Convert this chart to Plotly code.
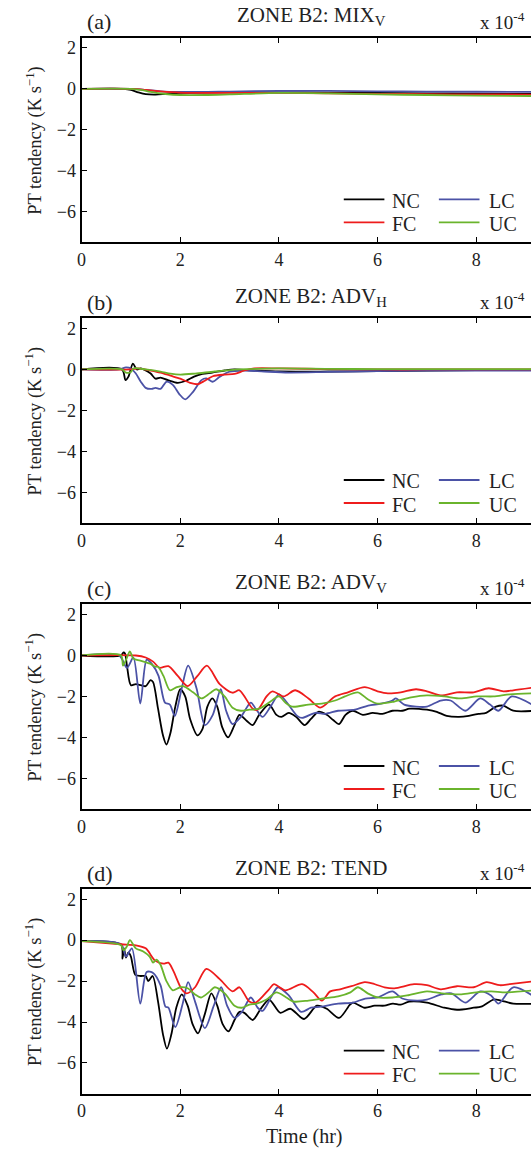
import plotly.graph_objects as go

W, H = 531, 1149
FONT = "Liberation Serif, Times New Roman, serif"
TXT = "#222222"

names = ["NC", "FC", "LC", "UC"]
colors = ["#000000", "#ee1c1c", "#4b52a6", "#6ab42c"]

titles = ["ZONE B2: MIX<sub>V</sub>", "ZONE B2: ADV<sub>H</sub>",
          "ZONE B2: ADV<sub>V</sub>", "ZONE B2: TEND"]
letters = ["(a)", "(b)", "(c)", "(d)"]
x_ticks = [0, 2, 4, 6, 8]
y_ticks = [2, 0, -2, -4, -6]
ylabel = "PT tendency (K s<sup>−1</sup>)"
xlabel = "Time (hr)"
scale_label = "x 10<sup>-4</sup>"

# ---------------- Panel (a): MIX_V ----------------
a_nc_t = [0, 0.85, 1.0, 1.15, 1.3, 1.5, 1.7, 2.0, 3.0, 4.0, 5.0, 6.0, 7.0, 8.0, 9.2]
a_nc_v = [0, 0, -0.05, -0.17, -0.26, -0.28, -0.25, -0.2, -0.17, -0.17, -0.18, -0.2, -0.22, -0.23, -0.25]
a_fc_t = [0, 1.0, 1.3, 1.6, 2.0, 3.0, 4.0, 5.0, 6.0, 7.0, 8.0, 9.2]
a_fc_v = [0, 0, -0.05, -0.12, -0.18, -0.2, -0.2, -0.22, -0.24, -0.26, -0.27, -0.28]
a_lc_t = [0, 1.0, 1.3, 1.6, 2.0, 3.0, 4.0, 5.0, 6.0, 7.0, 8.0, 9.2]
a_lc_v = [0, 0, -0.05, -0.12, -0.15, -0.13, -0.1, -0.1, -0.12, -0.13, -0.14, -0.15]
a_uc_t = [0, 1.0, 1.2, 1.4, 1.7, 2.0, 2.5, 3.0, 4.0, 5.0, 6.0, 7.0, 8.0, 9.2]
a_uc_v = [0, 0, -0.05, -0.15, -0.25, -0.3, -0.3, -0.27, -0.2, -0.22, -0.27, -0.3, -0.33, -0.35]

# ---------------- Panel (b): ADV_H ----------------
b_nc_t = [0, 0.82, 0.89, 0.95, 1.04, 1.12, 1.2, 1.3, 1.4, 1.5, 1.6, 1.75, 1.95, 2.12, 2.28, 2.45,
          2.65, 2.9, 3.1, 3.5, 4.0, 5.0, 6.0, 7.0, 8.0, 9.2]
b_nc_v = [0, 0, -0.52, -0.35, 0.29, 0.0, 0.05, -0.05, -0.2, -0.45, -0.4, -0.52, -0.65, -0.55, -0.35, -0.22,
          -0.15, -0.05, 0.0, -0.05, -0.1, -0.1, -0.08, -0.05, -0.03, -0.02]
b_fc_t = [0, 1.0, 1.15, 1.4, 1.6, 1.8, 2.0, 2.2, 2.35, 2.5, 2.66, 2.9, 3.1, 3.3, 3.5, 4.0,
          5.0, 6.0, 7.0, 8.0, 9.2]
b_fc_v = [0, 0, 0.05, -0.05, -0.15, -0.3, -0.45, -0.65, -0.72, -0.55, -0.33, -0.25, -0.22, -0.05, 0.05, 0.05,
          0.02, 0.0, 0.0, 0.0, 0.0]
b_lc_t = [0, 0.75, 0.9, 1.0, 1.1, 1.2, 1.3, 1.42, 1.5, 1.6, 1.72, 1.85, 1.98, 2.1, 2.26, 2.43,
          2.53, 2.66, 2.8, 3.0, 3.3, 3.7, 4.2, 5.0, 6.0, 7.0, 8.0, 9.2]
b_lc_v = [0, 0, 0.1, 0.05, -0.2, -0.6, -0.9, -0.95, -0.9, -0.95, -0.6, -0.75, -1.2, -1.46, -1.09, -0.52,
          -0.44, -0.6, -0.36, -0.11, -0.05, -0.1, -0.15, -0.12, -0.08, -0.06, -0.05, -0.05]
b_uc_t = [0, 0.82, 0.9, 1.0, 1.05, 1.3, 1.6, 1.8, 2.0, 2.3, 2.7, 3.2, 4.0, 5.0, 6.0, 7.0, 8.0, 9.2]
b_uc_v = [0, 0, -0.15, -0.12, 0.05, 0.0, -0.1, -0.2, -0.25, -0.2, -0.1, 0.0, 0.05, 0.03, 0.02, 0.02, 0.02, 0.02]

# ---------------- Panel (c): ADV_V ----------------
c_nc_t = [0, 0.8, 0.85, 0.88, 0.92, 1.0, 1.1, 1.2, 1.3, 1.4, 1.45, 1.55, 1.65, 1.72, 1.8, 1.9, 2.0,
          2.1, 2.2, 2.35, 2.45, 2.55, 2.65, 2.75, 2.85, 2.97, 3.1, 3.2, 3.35, 3.47, 3.6, 3.8, 3.95,
          4.05, 4.2, 4.35, 4.52, 4.65, 4.8, 4.97, 5.1, 5.22, 5.35, 5.5, 5.7, 5.9, 6.1, 6.3, 6.5,
          6.65, 7.0, 7.2, 7.4, 7.65, 7.85, 8.05, 8.2, 8.4, 8.55, 8.75, 9.2]
c_nc_v = [0, 0, 0.15, 0.1, -0.5, -1.45, -1.4, -1.45, -1.5, -1.2, -1.3, -2.6, -3.9, -4.35, -3.8, -2.5, -1.65,
          -2.0, -3.1, -3.9, -3.6, -2.5, -2.1, -2.5, -3.5, -4.0, -3.4, -2.9, -3.2, -3.4, -2.9, -2.4, -2.9,
          -3.0, -2.8, -3.0, -3.4, -3.1, -2.75, -2.9, -3.15, -3.35, -2.9, -2.7, -2.9, -2.8, -2.85, -2.7, -2.7,
          -2.6, -2.65, -2.75, -2.95, -3.0, -2.95, -2.85, -2.8, -2.5, -2.45, -2.7, -2.7]
c_fc_t = [0, 1.1, 1.3, 1.45, 1.58, 1.76, 1.95, 2.15, 2.35, 2.54, 2.8, 3.06, 3.2, 3.47, 3.57, 3.75, 3.87,
          4.1, 4.33, 4.6, 4.84, 5.14, 5.4, 5.74, 6.0, 6.21, 6.47, 6.78, 7.0, 7.28, 7.61, 7.95, 8.25,
          8.55, 8.75, 9.2]
c_fc_v = [0, 0, -0.1, -0.3, -0.6, -0.52, -1.0, -1.5, -1.0, -0.5, -1.4, -1.82, -1.7, -2.6, -2.65, -2.0, -1.75,
          -2.0, -1.7, -2.1, -2.55, -2.0, -1.8, -1.55, -1.75, -1.85, -1.8, -1.65, -1.75, -1.95, -1.8, -1.8, -1.6,
          -1.75, -1.7, -1.55]
c_lc_t = [0, 0.76, 0.92, 1.05, 1.19, 1.32, 1.42, 1.56, 1.69, 1.79, 1.89, 2.03, 2.16, 2.33, 2.5, 2.66,
          2.82, 2.93, 3.06, 3.23, 3.43, 3.53, 3.67, 3.83, 4.0, 4.13, 4.37, 4.47, 4.74, 4.94, 5.2, 5.54,
          5.81, 6.07, 6.3, 6.37, 6.54, 6.78, 7.0, 7.28, 7.48, 7.78, 8.08, 8.28, 8.45, 8.72, 9.2]
c_lc_v = [0, 0, -0.6, -0.1, -2.35, -0.2, -0.4, -1.0, -2.3, -2.4, -2.95, -1.6, -0.5, -1.6, -3.4, -2.9,
          -1.65, -2.7, -3.35, -3.0, -2.3, -2.6, -3.0, -2.5, -1.9, -2.2, -2.95, -3.05, -2.8, -2.85, -2.7, -2.65,
          -2.45, -2.35, -2.2, -2.1, -2.4, -2.5, -2.5, -2.2, -2.2, -2.7, -2.1, -2.4, -2.7, -2.0, -2.5]
c_uc_t = [0, 0.8, 0.84, 0.92, 0.98, 1.05, 1.19, 1.39, 1.49, 1.55, 1.66, 1.79, 1.93, 2.06, 2.26, 2.43,
          2.6, 2.73, 2.9, 3.06, 3.23, 3.4, 3.6, 3.8, 4.0, 4.13, 4.27, 4.6, 4.87, 5.14, 5.34, 5.6,
          5.81, 6.0, 6.34, 6.68, 7.0, 7.35, 7.68, 8.01, 8.35, 8.68, 9.2]
c_uc_v = [0, 0, -0.5, -0.1, 0.2, -0.15, -0.25, -0.4, -0.55, -0.55, -1.0, -1.7, -1.55, -1.5, -1.8, -2.1,
          -1.85, -1.65, -2.0, -2.55, -2.7, -2.65, -2.6, -2.3, -2.0, -2.3, -2.5, -2.4, -2.35, -2.2, -2.0, -1.8,
          -2.15, -2.35, -2.25, -2.05, -1.95, -2.0, -2.1, -2.0, -2.0, -1.9, -1.85]

# ---------------- Panel (d): TEND ----------------
d_nc_t = [0, 0.8, 0.83, 0.86, 0.9, 0.95, 1.0, 1.09, 1.2, 1.3, 1.35, 1.44, 1.55, 1.65, 1.73, 1.82, 1.92,
          2.03, 2.15, 2.25, 2.36, 2.5, 2.63, 2.75, 2.86, 2.98, 3.1, 3.2, 3.3, 3.47, 3.62, 3.8, 4.03,
          4.23, 4.51, 4.77, 4.97, 5.22, 5.44, 5.5, 5.74, 5.94, 6.14, 6.31, 6.47, 6.64, 7.0, 7.35, 7.61,
          7.95, 8.1, 8.35, 8.5, 8.75, 9.2]
d_nc_v = [-0.05, -0.22, -0.9, -0.4, -0.85, -0.6, -0.8, -1.7, -1.75, -1.75, -2.0, -1.75, -3.0, -4.6, -5.3, -4.6, -3.3,
          -2.65, -3.2, -4.1, -4.55, -3.6, -2.6, -3.2, -4.1, -4.45, -3.9, -3.5, -3.55, -3.9, -3.4, -2.9, -3.55,
          -3.35, -3.85, -3.2, -3.35, -3.8, -3.15, -3.05, -3.3, -3.2, -3.2, -3.1, -3.15, -3.0, -3.05, -3.3, -3.4,
          -3.3, -3.25, -2.9, -2.95, -3.1, -3.1]
d_fc_t = [0, 0.8, 1.1, 1.3, 1.49, 1.66, 1.76, 1.86, 2.03, 2.13, 2.3, 2.53, 2.8, 3.06, 3.2, 3.4, 3.53,
          3.8, 3.9, 4.13, 4.47, 4.7, 4.87, 5.04, 5.24, 5.47, 5.74, 5.87, 6.14, 6.34, 6.74, 7.0, 7.28,
          7.61, 7.95, 8.21, 8.48, 8.68, 9.2]
d_fc_v = [-0.05, -0.2, -0.25, -0.4, -1.0, -1.15, -1.1, -1.5, -2.4, -2.6, -2.3, -1.4, -1.9, -2.5, -2.3, -3.0, -3.05,
          -2.4, -2.15, -2.45, -2.15, -2.55, -2.95, -2.5, -2.4, -2.25, -2.05, -2.1, -2.3, -2.35, -2.15, -2.2, -2.4,
          -2.25, -2.3, -2.05, -2.2, -2.15, -2.0]
d_lc_t = [0, 0.8, 0.9, 1.02, 1.19, 1.32, 1.45, 1.6, 1.7, 1.76, 1.9, 2.05, 2.16, 2.3, 2.5, 2.68, 2.83,
          2.95, 3.1, 3.25, 3.43, 3.57, 3.67, 3.85, 3.98, 4.2, 4.45, 4.65, 4.85, 5.2, 5.5, 5.75, 6.0,
          6.3, 6.5, 6.8, 7.0, 7.3, 7.5, 7.78, 8.08, 8.3, 8.45, 8.75, 9.2]
d_lc_v = [-0.05, -0.2, -0.8, -0.4, -3.1, -1.55, -1.6, -2.2, -3.25, -3.3, -4.25, -3.1, -2.05, -3.0, -4.3, -3.2, -2.3,
          -3.2, -3.8, -3.5, -2.8, -3.3, -3.45, -2.75, -2.3, -2.7, -3.5, -3.3, -3.25, -3.1, -3.05, -2.85, -2.8,
          -2.5, -2.85, -2.95, -2.9, -2.65, -2.6, -3.05, -2.5, -2.7, -3.1, -2.3, -2.8]
d_uc_t = [0, 0.8, 0.85, 0.92, 0.98, 1.1, 1.25, 1.38, 1.45, 1.52, 1.6, 1.72, 1.85, 2.0, 2.15, 2.3, 2.42,
          2.6, 2.7, 2.9, 3.1, 3.25, 3.4, 3.55, 3.75, 3.95, 4.15, 4.3, 4.6, 4.9, 5.2, 5.45, 5.6,
          5.8, 6.0, 6.3, 6.6, 7.0, 7.3, 7.7, 8.0, 8.3, 8.6, 9.2]
d_uc_v = [-0.05, -0.25, -0.5, -0.3, 0.0, -0.4, -0.55, -0.8, -1.1, -0.95, -1.2, -2.0, -2.45, -2.3, -2.35, -2.65, -2.8,
          -2.5, -2.3, -2.6, -3.2, -3.3, -3.15, -3.1, -2.9, -2.55, -2.8, -3.0, -2.95, -2.85, -2.75, -2.55, -2.3,
          -2.6, -2.8, -2.8, -2.7, -2.5, -2.6, -2.65, -2.55, -2.5, -2.55, -2.45]

panels = [
    [(a_nc_t, a_nc_v), (a_fc_t, a_fc_v), (a_lc_t, a_lc_v), (a_uc_t, a_uc_v)],
    [(b_nc_t, b_nc_v), (b_fc_t, b_fc_v), (b_lc_t, b_lc_v), (b_uc_t, b_uc_v)],
    [(c_nc_t, c_nc_v), (c_fc_t, c_fc_v), (c_lc_t, c_lc_v), (c_uc_t, c_uc_v)],
    [(d_nc_t, d_nc_v), (d_fc_t, d_fc_v), (d_lc_t, d_lc_v), (d_uc_t, d_uc_v)],
]

# ---------------- layout geometry (pixels) ----------------
X0 = 77.3           # left edge of plot area
tops = [37.7, 318.3, 604.3, 889.0]
PH = 204.7          # plot height
XR = [0, 9.11]
YR = [-7.5, 2.5]


def fx(px):
    return px / W


def fy(py):
    return 1 - py / H


fig = go.Figure()
layout = dict(
    width=W, height=H,
    margin=dict(l=0, r=0, t=0, b=0),
    paper_bgcolor="white", plot_bgcolor="white",
    showlegend=False,
    font=dict(family=FONT, size=18, color=TXT),
)
annotations = []
shapes = []

for i, series in enumerate(panels):
    n = i + 1
    xa = "x" if n == 1 else f"x{n}"
    ya = "y" if n == 1 else f"y{n}"
    for k in [0, 2, 1, 3]:
        t, v = series[k]
        fig.add_trace(go.Scatter(
            x=t, y=v, mode="lines", name=names[k],
            line=dict(color=colors[k], width=1.8, shape="spline", smoothing=0.8),
            xaxis=xa, yaxis=ya, showlegend=False,
        ))
    top = tops[i]
    bot = top + PH
    axis_common = dict(showgrid=False, zeroline=False, showline=True, linecolor="black",
                       linewidth=2, ticks="inside", ticklen=5, tickwidth=1, tickcolor="black",
                       tickfont=dict(family=FONT, size=18, color=TXT))
    layout["xaxis" if n == 1 else f"xaxis{n}"] = dict(
        domain=[fx(X0), 1.0], range=XR, anchor=ya, tickvals=x_ticks,
        mirror="ticks", **axis_common)
    layout["yaxis" if n == 1 else f"yaxis{n}"] = dict(
        domain=[fy(bot), fy(top)], range=YR, anchor=xa, tickvals=y_ticks,
        mirror=False, **axis_common)

    # title, letter, scale factor
    annotations.append(dict(text=titles[i], x=fx(309), y=fy(top - 21.5), xref="paper", yref="paper",
                            xanchor="center", yanchor="middle", showarrow=False,
                            font=dict(family=FONT, size=21, color=TXT)))
    annotations.append(dict(text=letters[i], x=fx(81), y=fy(top - 16), xref="paper", yref="paper",
                            xanchor="left", yanchor="middle", showarrow=False,
                            font=dict(family=FONT, size=22, color=TXT)))
    annotations.append(dict(text=scale_label, x=fx(477), y=fy(top - 17), xref="paper", yref="paper",
                            xanchor="left", yanchor="middle", showarrow=False,
                            font=dict(family=FONT, size=19, color=TXT)))
    # y label
    annotations.append(dict(text=ylabel, x=fx(29), y=fy(top + PH / 2), xref="paper", yref="paper",
                            xanchor="center", yanchor="middle", textangle=-90, showarrow=False,
                            font=dict(family=FONT, size=18.5, color=TXT)))
    # legend (2 x 2)
    leg_rows = [bot - 43, bot - 20]
    leg_cols = [(342, 383, 389), (438, 479, 487)]
    leg_pos = {0: (0, 0), 2: (0, 1), 1: (1, 0), 3: (1, 1)}
    for k in range(4):
        r, c = leg_pos[k]
        x1, x2, xt = leg_cols[c]
        yy = leg_rows[r]
        shapes.append(dict(type="line", xref="paper", yref="paper",
                           x0=fx(x1), x1=fx(x2), y0=fy(yy), y1=fy(yy),
                           line=dict(color=colors[k], width=1.8)))
        annotations.append(dict(text=names[k], x=fx(xt), y=fy(yy + 1.5), xref="paper", yref="paper",
                                xanchor="left", yanchor="middle", showarrow=False,
                                font=dict(family=FONT, size=20, color=TXT)))

annotations.append(dict(text=xlabel, x=fx(302), y=fy(1136), xref="paper", yref="paper",
                        xanchor="center", yanchor="middle", showarrow=False,
                        font=dict(family=FONT, size=20, color=TXT)))

layout["annotations"] = annotations
layout["shapes"] = shapes
fig.update_layout(**layout)
fig.write_html("out.html")
